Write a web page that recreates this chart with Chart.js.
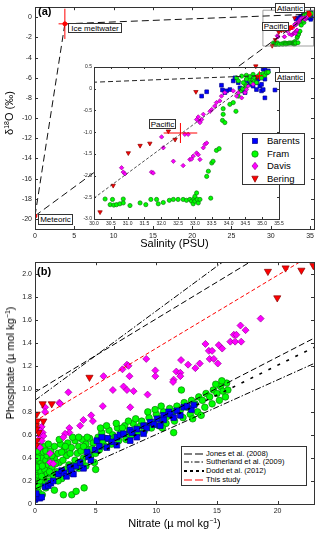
<!DOCTYPE html>
<html>
<head>
<meta charset="utf-8">
<script src="https://cdn.jsdelivr.net/npm/chart.js@4.4.1/dist/chart.umd.min.js"></script>
<style>
body{margin:0;width:320px;height:533px;position:relative;background:#fff;font-family:"Liberation Sans",Arial,sans-serif;overflow:hidden;color:#000}
canvas{position:absolute}
.lbl{position:absolute;border:1px solid #333;background:#fff;font-size:8px;line-height:8px;text-align:center;box-sizing:border-box;white-space:nowrap;z-index:5}
.tag{position:absolute;font-weight:bold;font-size:11px;z-index:5}
.title{position:absolute;font-size:11px;white-space:nowrap;text-align:center;z-index:5}
.ytitle{position:absolute;font-size:11px;white-space:nowrap;transform:translate(-50%,-50%) rotate(-90deg);z-index:5}
sup{font-size:7px;vertical-align:4px;line-height:0}
.legend{position:absolute;border:1px solid #333;background:#fff;box-sizing:border-box;z-index:6}
.legend div{position:absolute;white-space:nowrap}
.legend svg{position:absolute}
</style>
</head>
<body>
<canvas id="chartA" width="320" height="255" style="left:0;top:0"></canvas>
<canvas id="chartInset" width="250" height="170" style="left:70px;top:62px"></canvas>
<canvas id="chartB" width="320" height="278" style="left:0;top:255px"></canvas>

<div class="tag" style="left:38px;top:5px">(a)</div>
<div class="tag" style="left:37px;top:265px">(b)</div>
<div class="title" style="left:35px;width:279px;top:237px">Salinity (PSU)</div>
<div class="title" style="left:35px;width:279px;top:517px">Nitrate (µ mol kg<sup>−1</sup>)</div>
<div class="ytitle" style="left:9px;top:113px">δ<sup>18</sup>O (‰)</div>
<div class="ytitle" style="left:10px;top:363px">Phosphate (µ mol kg<sup>−1</sup>)</div>

<div class="lbl" style="left:68px;top:23px;width:54px;height:10px;line-height:9px">Ice meltwater</div>
<div class="lbl" style="left:38px;top:214px;width:35px;height:11px;line-height:10px">Meteoric</div>
<div class="lbl" style="left:275px;top:3px;width:30px;height:10px;line-height:9px">Atlantic</div>
<div class="lbl" style="left:262px;top:22px;width:27px;height:9px;line-height:8px">Pacific</div>
<div class="lbl" style="left:275px;top:72px;width:30px;height:10px;line-height:9px">Atlantic</div>
<div class="lbl" style="left:149px;top:119px;width:27px;height:10px;line-height:9px">Pacific</div>

<div class="legend" id="legendA" style="left:242px;top:133px;width:63px;height:52px;font-size:9.5px"></div>
<div class="legend" id="legendB" style="left:181px;top:446px;width:126px;height:40px;font-size:7.5px"></div>

<script>
// ---- series ----
const seriesNames = ['Barents', 'Fram', 'Davis', 'Bering'];
const seriesFill = ['#0000ff', '#00ff00', '#ff00ff', '#ff0000'];
const seriesEdge = ['#00008b', '#0b7d0b', '#9b009b', '#8b0000'];
const seriesShape = ['rect', 'circle', 'rectRot', 'triangle'];

// ---- panel (a): salinity vs d18O ----
const aXTicks = [0, 5, 10, 15, 20, 25, 30, 35];
const aYTicks = [0, -2, -4, -6, -8, -10, -12, -14, -16, -18, -20];
const insetXTicks = [30, 30.5, 31, 31.5, 32, 32.5, 33, 33.5, 34, 34.5, 35, 35.5];
const insetYTicks = [0.5, 0, -0.5, -1, -1.5, -2, -2.5, -3];

// end members: Ice meltwater, Meteoric, Atlantic, Pacific
const endNames = ['Ice meltwater', 'Meteoric', 'Atlantic', 'Pacific'];
const endSal = [3.8, 0, 34.92, 32.57];
const endD18O = [-0.65, -19.7, 0.3, -1.02];
const endErrSal = [0.8, 0, 0.1, 0.5];
const endErrD18O = [1.5, 1.0, 0.1, 0.23];
// mixing lines as pairs of end member indices
const mixLines = [[1, 0], [0, 2], [1, 2]];
// zoom box drawn on the main panel
const zoomBox = [[29, 0.7], [35.5, 0.7], [35.5, -2.85], [29, -2.85], [29, 0.7]];

const barentsTS = [[33.79,0.08],[33.82,-0.03],[33.89,-0.09],[33.94,-0.05],[34.04,-0.02],[34.14,0.18],[34.19,0.25],[34.29,0.14],[34.34,0.02],[34.44,-0.05],[34.49,-0.09],[34.63,0.1],[34.73,0.06],[34.83,0.14],[34.88,0.22],[34.93,0.06],[34.98,-0.05],[35.03,-0.02],[35.08,-0.21],[35.08,0.22],[35.03,0.45],[35.08,0.48],[35.13,0.37],[35.18,0.41],[35.38,-0.03],[33.35,-0.07],[33.2,-0.17],[34.53,0.18],[34.63,0.22],[34.78,0.25],[34.93,0.29],[34.98,0.1],[34.83,-0.02]];
const framTS = [[30.33,-2.54],[30.48,-2.67],[30.55,-2.55],[30.59,-2.68],[30.67,-2.67],[30.77,-2.65],[30.87,-2.54],[30.87,-2.63],[31.07,-2.69],[31.37,-2.63],[31.54,-2.67],[31.69,-2.55],[31.86,-2.55],[31.91,-2.65],[32.06,-2.62],[32.24,-2.57],[32.36,-2.55],[32.5,-2.55],[32.65,-2.55],[32.75,-2.57],[32.85,-2.55],[32.9,-2.59],[32.95,-2.65],[32.97,-2.54],[33.0,-2.48],[33.0,-2.59],[33.05,-2.4],[33.07,-2.55],[33.1,-2.63],[33.15,-2.55],[33.47,-2.52],[33.35,-2.02],[33.4,-1.9],[33.5,-1.71],[33.54,-1.67],[33.64,-1.42],[33.72,-1.38],[33.82,-0.73],[33.84,-0.59],[33.84,-0.46],[33.89,-0.78],[34.04,-0.36],[34.22,-0.52],[34.14,-0.32],[34.29,-0.17],[34.36,-0.05],[34.42,0],[34.49,0.1],[34.53,0.06],[34.61,0.22],[34.68,0.14],[34.73,0.2],[34.78,0.25],[34.83,0.14],[34.88,0.29],[34.93,0.33],[34.98,0.25],[35.03,0.35],[35.08,0.31],[35.13,0.37],[35.18,0.38],[34.24,0.25],[34.39,0.29],[34.53,0.31],[34.63,0.28],[34.73,0.33],[34.44,0.14],[34.29,0.18],[34.53,0.22]];
const davisTS = [[30.82,-1.82],[30.87,-1.92],[30.92,-1.96],[31.71,-1.92],[31.76,-1.94],[32.01,-1.11],[32.06,-1.36],[32.36,-1.67],[32.65,-1.77],[32.7,-1.05],[32.8,-1.05],[32.85,-1.63],[32.9,-1.62],[32.95,-1.55],[33.05,-1.48],[33.1,-1.52],[33.15,-1.63],[33.25,-1.36],[33.3,-1.28],[33.35,-1.25],[33.1,-0.65],[33.13,-0.75],[33.15,-0.78],[33.2,-0.71],[33.25,-0.59],[33.05,-0.71],[33.45,-0.52],[33.5,-0.48],[33.59,-0.4],[33.64,-0.32],[33.74,-0.28],[33.79,-0.17],[33.89,-0.09],[34.14,-0.05],[34.24,-0.17],[34.29,-0.09],[34.39,-0.21],[34.49,-0.09],[34.53,-0.02],[34.58,0.06],[34.73,0.1]];
const beringTS = [[30.18,-2.84],[30.57,-2.23],[31.02,-1.48],[31.37,-1.31],[31.66,-1.26],[32.21,-0.98],[32.41,-1.17],[33.03,-0.07],[34.81,0.52],[34.85,0.27]];

// ---- panel (b): nitrate vs phosphate ----
const bXTicks = [0, 5, 10, 15, 20];
const bYTicks = [0, 0.2, 0.4, 0.6, 0.8, 1, 1.2, 1.4, 1.6, 1.8, 2];

const barentsNP = [[0,0.04],[0.2,0.06],[0.4,0.05],[0.55,0.06],[0.1,0.09],[0.83,0.15],[1.1,0.16],[1.3,0.18],[1.5,0.2],[1.93,0.26],[2.2,0.29],[2.4,0.27],[2.6,0.24],[2.89,0.32],[3.0,0.29],[3.17,0.26],[3.4,0.33],[3.72,0.36],[4.0,0.31],[4.3,0.45],[4.4,0.41],[4.6,0.38],[4.96,0.47],[5.1,0.55],[5.3,0.5],[5.5,0.58],[5.92,0.49],[6.0,0.57],[6.34,0.54],[6.75,0.58],[6.75,0.51],[7.0,0.6],[7.3,0.61],[7.85,0.64],[7.85,0.55],[8.0,0.62],[8.4,0.65],[8.4,0.58],[8.95,0.68],[8.95,0.61],[9.2,0.66],[9.5,0.71],[9.8,0.69],[10.06,0.74],[10.33,0.68],[10.6,0.77],[10.6,0.73],[11.02,0.8],[11.16,0.78],[11.43,0.75],[11.7,0.81],[11.98,0.77],[12.26,0.84],[12.53,0.85],[12.9,0.82],[13.1,0.86]];
const framNP = [[0.05,0.05],[0.1,0.12],[0.2,0.18],[0.1,0.22],[0.3,0.25],[0.05,0.28],[0.2,0.3],[0.4,0.32],[0.1,0.35],[0.3,0.38],[0.5,0.36],[0.15,0.42],[0.35,0.44],[0.6,0.4],[0.2,0.46],[0.5,0.28],[0.7,0.22],[0.8,0.3],[0.9,0.38],[0.6,0.18],[0.4,0.2],[0.25,0.15],[0.7,0.45],[1.0,0.42],[0.45,0.5],[0.8,0.5],[1.1,0.34],[1.0,0.26],[0.15,0.32],[0.55,0.24],
  [0.3,0.1],[0.6,0.08],[0.9,0.14],[0.2,0.4],[0.6,0.33],[0.9,0.46],
  [1.2,0.2],[1.5,0.25],[1.4,0.32],[1.8,0.28],[2.0,0.36],[2.2,0.22],[2.5,0.3],[2.8,0.34],[3.0,0.27],[3.3,0.38],[3.6,0.31],[4.0,0.4],[4.2,0.33],[4.6,0.42],[4.9,0.36],[1.6,0.4],[2.6,0.42],
  [1.2,0.28],[1.3,0.38],[1.4,0.42],[1.7,0.35],[1.9,0.2],[2.3,0.38],[2.9,0.44],[3.2,0.33],[3.9,0.37],
  [1.3,0.46],[1.6,0.5],[1.9,0.44],[2.1,0.52],[2.4,0.47],[2.7,0.53],[3.0,0.49],[3.3,0.55],[3.6,0.5],[3.9,0.56],[4.2,0.52],[4.5,0.57],[4.8,0.53],[2.0,0.56],[1.1,0.52],[3.5,0.44],[4.4,0.47],
  [2.2,0.45],[2.5,0.5],[3.1,0.58],[3.6,0.58],[3.8,0.46],[4.0,0.5],[4.3,0.58],[4.7,0.48],
  [5.2,0.58],[5.5,0.62],[5.8,0.57],[6.1,0.64],[6.4,0.6],[6.8,0.66],[7.1,0.62],[7.4,0.68],[7.8,0.64],[8.1,0.7],[8.4,0.66],[5.6,0.54],[6.6,0.58],[7.6,0.6],
  [5.4,0.66],[5.9,0.68],[6.2,0.56],[6.7,0.7],[7.2,0.66],[7.7,0.72],[8.3,0.74],[8.7,0.68],
  [5.3,0.47],[5.8,0.5],[6.3,0.52],[6.9,0.55],[7.5,0.56],[8.0,0.6],[8.5,0.62],[5.0,0.44],
  [8.8,0.72],[9.1,0.68],[9.4,0.75],[9.7,0.71],[10.0,0.78],[10.3,0.74],[10.6,0.8],[10.9,0.76],[11.1,0.83],[9.0,0.63],[9.6,0.66],[10.2,0.68],[10.8,0.7],
  [9.3,0.8],[9.9,0.82],[10.4,0.85],
  [11.4,0.8],[11.7,0.85],[12.0,0.82],[12.3,0.88],[12.6,0.84],[12.9,0.9],[13.2,0.87],[13.5,0.93],[13.8,0.9],[14.1,0.96],[14.4,0.93],[14.7,0.99],[15.0,0.96],[15.3,1.02],[15.5,0.98],[14.9,1.04],[15.8,1.05],[15.4,1.07],[15.9,0.99],
  [11.5,0.72],[12.2,0.75],[12.8,0.78],[13.4,0.8],[14.0,0.84],[14.6,0.87],[15.2,0.9],[15.7,0.93],[11.43,0.62],[12.07,0.99],[13.0,0.74],[13.7,0.77],[10.5,0.66],
  [2.34,0.08],[3.03,0.08],[3.39,0.11],[4.05,0.14],[5.0,0.3],[0,0.04],[1.6,0.12]];
const davisNP = [[18.6,1.61],[16.94,1.55],[17.36,1.51],[16.39,1.47],[16.6,1.47],[16.1,1.41],[16.5,1.41],[17.0,1.41],[15.15,1.38],[15.43,1.35],[14.05,1.39],[14.33,1.33],[14.6,1.33],[14.4,1.26],[14.74,1.26],[15.07,1.22],[13.58,1.22],[13.22,1.18],[12.62,1.21],[12.04,1.25],[11.65,1.15],[11.98,1.14],[11.98,1.11],[11.43,1.08],[11.38,1.06],[9.92,1.16],[9.92,1.11],[7.58,1.21],[7.71,1.2],[7.21,1.17],[7.79,1.11],[5.65,1.11],[9.17,1.26],[7.3,1.02],[7.58,0.99],[8.13,0.98],[6.42,0.99],[9.28,0.95],[7.85,0.84],[5.59,0.85],[2.75,0.97],[2.01,0.88],[2.07,0.87],[0.83,0.84],[0.83,0.8],[4.63,0.77],[4.77,0.72],[3.99,0.73],[3.72,0.68],[2.83,0.66],[2.83,0.62],[2.48,0.61],[2.34,0.58],[0.55,0.67],[0.41,0.64],[0.63,0.62],[0.36,0.59],[0.69,0.59],[0.55,0.55],[0.41,0.49],[1.24,0.44],[1.24,0.36],[1.51,0.35]];
const beringNP = [[4.49,1.10],[0.63,0.87],[1.38,0.87],[0.14,0.78],[0.19,0.72],[0.69,0.72],[0.08,0.68],[0.3,0.62],[0.1,0.65],[0.14,0.55],[0.08,0.51],[19.2,2.02],[20.66,2.05],[21.96,2.03],[22.95,2.07],[19.97,1.79]];

// reference N:P relationships, each as two end points
const refNames = ['Jones et al. (2008)', 'Sutherland et al. (2009)', 'Dodd et al. (2012)', 'This study'];
const refColor = ['#000000', '#000000', '#000000', '#ff0000'];
const refWidth = [1, 1, 1.6, 1];
const refDash = [[6, 3], [6, 2, 1.5, 2], [3, 7], [4, 2.5]];
const refLegendDash = [[8, 3], [5, 2, 1.5, 2], [3, 3], [8, 3]];
const refLines = [
  [[[0, 0.97], [17.7, 2.1]], [[0, 0.19], [23, 1.44]]],
  [[[0, 0.9], [15.45, 2.1]], [[0, 0.13], [23, 1.22]]],
  [[[0, 0.17], [23, 1.36]]],
  [[[0.4, 0.745], [21.8, 2.1]]]
];

// ---- helpers ----
const pts = arr => arr.map(p => ({ x: p[0], y: p[1] }));

function scatterSet(i, data, r) {
  return {
    data: pts(data),
    pointStyle: seriesShape[i],
    rotation: seriesShape[i] === 'triangle' ? 180 : 0,
    pointRadius: seriesShape[i] === 'rect' ? r * 1.25 : (seriesShape[i] === 'triangle' ? r * 1.15 : r),
    backgroundColor: seriesFill[i],
    borderColor: seriesEdge[i],
    borderWidth: 0.7,
    showLine: false
  };
}

function lineSet(data, color, width, dash) {
  return {
    data: pts(data), showLine: true, pointRadius: 0,
    borderColor: color, borderWidth: width, borderDash: dash, fill: false
  };
}

function errorData() {
  const d = [];
  for (let i = 0; i < endNames.length; i++) {
    d.push({ x: endSal[i] - endErrSal[i], y: endD18O[i] }, { x: endSal[i] + endErrSal[i], y: endD18O[i] }, { x: endSal[i], y: null });
    d.push({ x: endSal[i], y: endD18O[i] - endErrD18O[i] }, { x: endSal[i], y: endD18O[i] + endErrD18O[i] }, { x: endSal[i], y: null });
  }
  return d;
}

function mixData(k) {
  const [a, b] = mixLines[k];
  return [[endSal[a], endD18O[a]], [endSal[b], endD18O[b]]];
}

// box around the plot with inward ticks on all sides, like the original figure
const axisBox = {
  id: 'axisBox',
  beforeDraw(chart, args, o) {
    if (!o.fill) return;
    const a = chart.chartArea, c = chart.ctx;
    c.save();
    c.fillStyle = '#fff';
    c.fillRect(a.left, a.top, a.right - a.left, a.bottom - a.top);
    c.restore();
  },
  afterDraw(chart, args, o) {
    const a = chart.chartArea, c = chart.ctx, len = o.len || 3;
    const sx = chart.scales.x, sy = chart.scales.y;
    c.save();
    c.strokeStyle = '#333';
    c.lineWidth = 1;
    c.setLineDash([]);
    c.beginPath();
    sx.ticks.forEach(t => {
      const p = Math.round(sx.getPixelForValue(t.value)) + 0.5;
      c.moveTo(p, a.bottom); c.lineTo(p, a.bottom - len);
      c.moveTo(p, a.top); c.lineTo(p, a.top + len);
    });
    sy.ticks.forEach(t => {
      const p = Math.round(sy.getPixelForValue(t.value)) + 0.5;
      c.moveTo(a.left, p); c.lineTo(a.left + len, p);
      c.moveTo(a.right, p); c.lineTo(a.right - len, p);
    });
    c.stroke();
    c.strokeRect(Math.round(a.left) + 0.5, Math.round(a.top) + 0.5, Math.round(a.right - a.left), Math.round(a.bottom - a.top));
    c.restore();
  }
};

function axes(xmin, xmax, ymin, ymax, xt, yt, yw, xh, fsize, pad) {
  const f = { family: 'Liberation Sans', size: fsize };
  return {
    x: {
      type: 'linear', min: xmin, max: xmax,
      grid: { display: false, drawTicks: false }, border: { display: false },
      ticks: { font: f, color: '#222', padding: pad, maxRotation: 0, autoSkip: false },
      afterBuildTicks: s => { s.ticks = xt.map(v => ({ value: v })); },
      afterFit: s => { s.height = xh; }
    },
    y: {
      type: 'linear', min: ymin, max: ymax,
      grid: { display: false, drawTicks: false }, border: { display: false },
      ticks: { font: f, color: '#222', padding: pad, autoSkip: false },
      afterBuildTicks: s => { s.ticks = yt.map(v => ({ value: v })); },
      afterFit: s => { s.width = yw; }
    }
  };
}

const common = {
  responsive: false, animation: false, events: [],
  plugins: { legend: { display: false }, tooltip: { enabled: false } }
};

// ---- chart (a) main ----
new Chart(document.getElementById('chartA'), {
  type: 'scatter',
  plugins: [axisBox],
  data: {
    datasets: [
      { data: errorData(), showLine: true, pointRadius: 0, borderColor: '#ff0000', borderWidth: 1, spanGaps: false },
      { data: endSal.map((s, i) => ({ x: s, y: endD18O[i] })), pointRadius: 2, backgroundColor: '#ff0000', borderColor: '#ff0000' },
      lineSet(mixData(0), '#111', 1, [7, 4]),
      lineSet(mixData(1), '#111', 1, [7, 4]),
      lineSet(mixData(2), '#111', 1, [7, 4]),
      lineSet(zoomBox, '#888', 0.8, []),
      scatterSet(3, beringTS, 2),
      scatterSet(2, davisTS, 2),
      scatterSet(1, framTS, 2),
      scatterSet(0, barentsTS, 2)
    ]
  },
  options: Object.assign({}, common, {
    layout: { padding: { left: 0, top: 4, right: 6, bottom: 0 } },
    scales: axes(0, 35.5, -21, 1, aXTicks, aYTicks, 35, 26, 7, 3),
    plugins: Object.assign({}, common.plugins, { axisBox: { len: 3 } })
  })
});

// ---- chart (a) inset ----
new Chart(document.getElementById('chartInset'), {
  type: 'scatter',
  plugins: [axisBox],
  data: {
    datasets: [
      { data: errorData(), showLine: true, pointRadius: 0, borderColor: '#ff0000', borderWidth: 1, spanGaps: false },
      lineSet(mixData(1), '#222', 1, [5, 3]),
      lineSet(mixData(2), '#222', 0.8, [3, 2]),
      Object.assign(scatterSet(3, beringTS, 2.2), { clip: false }),
      scatterSet(2, davisTS, 2.2),
      scatterSet(1, framTS, 2.1),
      scatterSet(0, barentsTS, 2.1)
    ]
  },
  options: Object.assign({}, common, {
    layout: { padding: { left: 0, top: 5, right: 41, bottom: 0 } },
    scales: axes(30, 35.5, -3, 0.5, insetXTicks, insetYTicks, 24, 13, 5, 2),
    plugins: Object.assign({}, common.plugins, { axisBox: { len: 2, fill: true } })
  })
});

// ---- chart (b) ----
const bLines = [];
refLines.forEach((segs, i) => segs.forEach(seg => bLines.push(lineSet(seg, refColor[i], refWidth[i], refDash[i]))));

new Chart(document.getElementById('chartB'), {
  type: 'scatter',
  plugins: [axisBox],
  data: {
    datasets: bLines.concat([
      scatterSet(3, beringNP, 3.6),
      scatterSet(2, davisNP, 3.5),
      scatterSet(0, barentsNP, 3.2),
      scatterSet(1, framNP, 3.3)
    ])
  },
  options: Object.assign({}, common, {
    layout: { padding: { left: 0, top: 7, right: 6, bottom: 0 } },
    scales: axes(0, 23, 0, 2.1, bXTicks, bYTicks, 35, 29, 7, 3),
    plugins: Object.assign({}, common.plugins, { axisBox: { len: 3 } })
  })
});

// ---- legends ----
function markerSvg(i) {
  const f = seriesFill[i], e = seriesEdge[i];
  let shape;
  if (seriesShape[i] === 'rect') shape = `<rect x="1.5" y="1.5" width="5" height="5" fill="${f}" stroke="${e}" stroke-width="0.7"/>`;
  else if (seriesShape[i] === 'circle') shape = `<circle cx="4" cy="4" r="3.2" fill="${f}" stroke="${e}" stroke-width="0.7"/>`;
  else if (seriesShape[i] === 'rectRot') shape = `<polygon points="4,0.3 7,4 4,7.7 1,4" fill="${f}" stroke="${e}" stroke-width="0.7"/>`;
  else shape = `<polygon points="0.8,1.2 7.2,1.2 4,7.2" fill="${f}" stroke="${e}" stroke-width="0.7"/>`;
  return `<svg width="8" height="8" viewBox="0 0 8 8">${shape}</svg>`;
}

const legA = document.getElementById('legendA');
const rowA = [7, 19.5, 32, 44.5];
seriesNames.forEach((n, i) => {
  legA.insertAdjacentHTML('beforeend',
    `<span style="position:absolute;left:8px;top:${rowA[i] - 4}px">${markerSvg(i)}</span>` +
    `<div style="left:24px;top:${rowA[i] - 6}px;line-height:11px">${n}</div>`);
});

const legB = document.getElementById('legendB');
const rowB = [6.5, 15.2, 23.9, 32.6];
refNames.forEach((n, i) => {
  legB.insertAdjacentHTML('beforeend',
    `<svg style="left:2px;top:${rowB[i] - 3}px" width="20" height="6"><line x1="0" y1="3" x2="20" y2="3" stroke="${refColor[i]}" stroke-width="${refWidth[i] + 0.2}" stroke-dasharray="${refLegendDash[i].join(' ')}"/></svg>` +
    `<div style="left:24px;top:${rowB[i] - 5}px;line-height:9px">${n}</div>`);
});
</script>
</body>
</html>
